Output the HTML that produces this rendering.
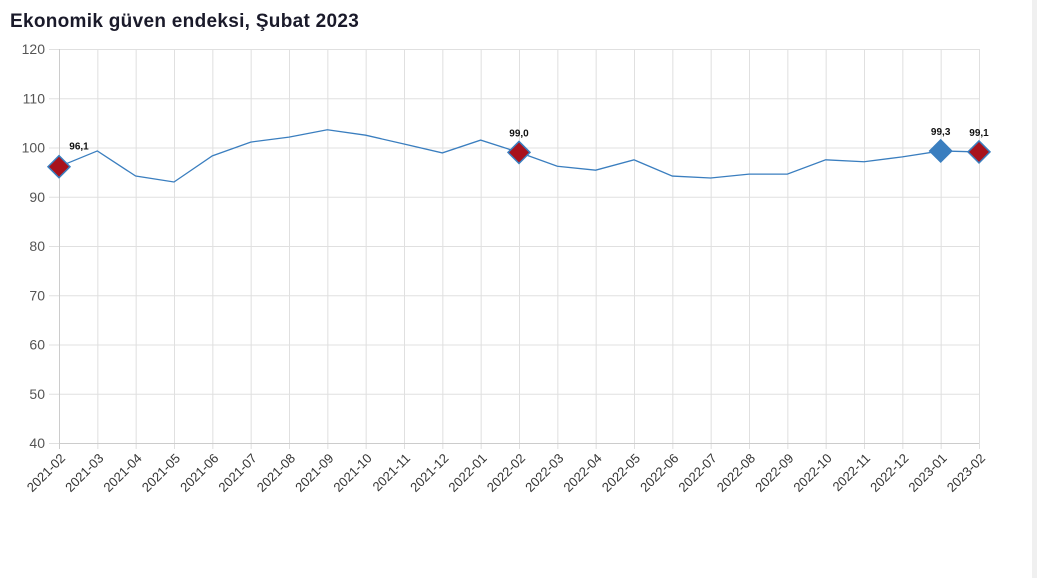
<!DOCTYPE html>
<html><head><meta charset="utf-8"><style>
body{margin:0;background:#fff;width:1037px;height:578px;overflow:hidden;font-family:"Liberation Sans",sans-serif;}
#title{position:absolute;left:10px;top:11px;font-size:19px;font-weight:bold;color:#1a1a2a;letter-spacing:0.3px;}
#scroll{position:absolute;left:1032px;top:0;width:5px;height:578px;background:#f0f0f0;}
</style></head><body>
<div id="title">Ekonomik güven endeksi, Şubat 2023</div>
<div id="scroll"></div>
<svg id="chart" width="1037" height="578" style="position:absolute;left:0;top:0"></svg>
<script>
const categories=["2021-02","2021-03","2021-04","2021-05","2021-06","2021-07","2021-08","2021-09","2021-10","2021-11","2021-12","2022-01","2022-02","2022-03","2022-04","2022-05","2022-06","2022-07","2022-08","2022-09","2022-10","2022-11","2022-12","2023-01","2023-02"];
const values=[96.1,99.3,94.2,93.0,98.3,101.1,102.1,103.6,102.5,100.7,98.9,101.5,99.0,96.2,95.4,97.5,94.2,93.8,94.6,94.6,97.5,97.1,98.1,99.3,99.1];
const yTicks=[40,50,60,70,80,90,100,110,120];
const highlightRed=["2021-02","2022-02","2023-02"];
const highlightBlue=["2023-01"];
const svg=document.getElementById('chart');
const NS='http://www.w3.org/2000/svg';
const x0=59,x1=979,y0=443,y1=49,ymin=40,ymax=120;
const X=i=>x0+(x1-x0)*i/(categories.length-1);
const Y=v=>y0-(v-ymin)/(ymax-ymin)*(y0-y1);
function mk(t,a){const e=document.createElementNS(NS,t);for(const k in a)e.setAttribute(k,a[k]);svg.appendChild(e);return e;}
yTicks.forEach(t=>{
 const l=mk('line',{x1:49,x2:x1,y1:Y(t)+0.5,y2:Y(t)+0.5,stroke:'#e0e0e0'});
 
 
 const tx=mk('text',{x:45,y:Y(t)+5,'text-anchor':'end','font-size':14,fill:'#555'});
 tx.textContent=t;
 
 
});
categories.forEach((c,i)=>{
 const l=mk('line',{x1:X(i)+0.5,x2:X(i)+0.5,y1:y1,y2:y0+6,stroke:i==0?'#ccc':'#e0e0e0'});
 
 
 const ax=X(i)+7,ay=y0+16;
 const tx=mk('text',{x:ax,y:ay,'text-anchor':'end','font-size':13,fill:'#333',transform:`rotate(-45 ${ax} ${ay})`});
 tx.textContent=c;
 
 
});
const ax=mk('line',{x1:x0,x2:x1,y1:y0+0.5,y2:y0+0.5,stroke:'#ccc'});


const p=mk('polyline',{points:values.map((v,i)=>X(i)+','+Y(v)).join(' '),fill:'none',stroke:'#3a7ebf','stroke-width':1.3});


categories.forEach((c,i)=>{
 const red=highlightRed.includes(c),blue=highlightBlue.includes(c);
 if(!red&&!blue)return;
 const cx=X(i),cy=Y(values[i]),r=11;
 const d=mk('polygon',{points:`${cx},${cy-r} ${cx+r},${cy} ${cx},${cy+r} ${cx-r},${cy}`,fill:red?'#a8121c':'#3a7ebf',stroke:'#3a7ebf','stroke-width':1.5});
 
 
 const lx=i==0?cx+20:cx;
 const tx=mk('text',{x:lx,y:i==0?cy-17:cy-16,'text-anchor':'middle','font-size':10,'font-weight':'bold',fill:'#111'});
 tx.textContent=values[i].toFixed(1).replace('.',',');
 
 
});
</script>
</body></html>
